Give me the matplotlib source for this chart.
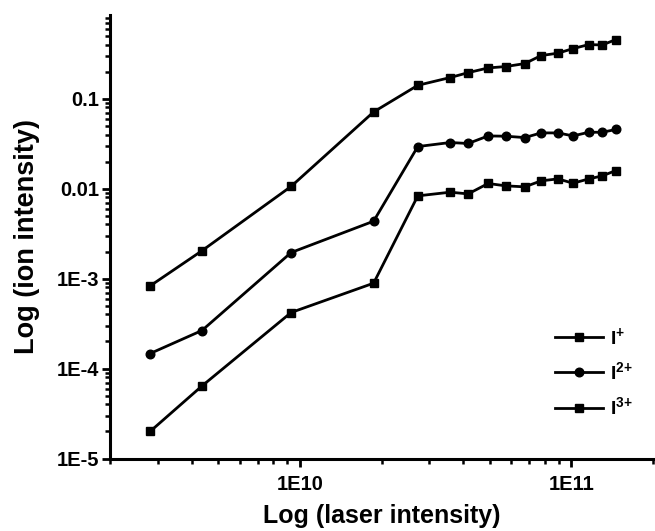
import numpy as np
import matplotlib
matplotlib.use("Agg")
import matplotlib.pyplot as plt
from matplotlib.ticker import FixedLocator, LogLocator, NullFormatter

plt.rcParams['font.family'] = ['Liberation Sans', 'DejaVu Sans']
plt.rcParams['font.weight'] = 'bold'
plt.rcParams['mathtext.fontset'] = 'custom'
plt.rcParams['mathtext.rm'] = 'Liberation Sans:bold'
plt.rcParams['mathtext.bf'] = 'Liberation Sans:bold'
plt.rcParams['mathtext.default'] = 'bf'

# laser intensity (W/cm^2)
laser = [2.81e9, 4.36e9, 9.29e9, 1.87e10, 2.72e10, 3.58e10, 4.17e10, 4.94e10,
         5.74e10, 6.74e10, 7.74e10, 8.93e10, 1.015e11, 1.16e11, 1.30e11, 1.46e11]

ion_1 = [8.3e-4, 2.04e-3, 0.0106, 0.0713, 0.141, 0.172, 0.195, 0.220,
         0.228, 0.246, 0.302, 0.321, 0.361, 0.400, 0.396, 0.455]
ion_2 = [1.47e-4, 2.65e-4, 1.95e-3, 4.35e-3, 0.0294, 0.0326, 0.0318, 0.0386,
         0.0383, 0.0370, 0.0417, 0.0417, 0.0386, 0.0424, 0.0424, 0.0455]
ion_3 = [2.0e-5, 6.4e-5, 4.2e-4, 8.9e-4, 0.00832, 0.00914, 0.00875, 0.01142,
         0.01075, 0.01048, 0.01222, 0.01285, 0.01150, 0.01285, 0.01387, 0.01592]

series_labels = [r'I$^{\text{+}}$', r'I$^{\text{2+}}$', r'I$^{\text{3+}}$']
x_ticks = [1e10, 1e11]
x_tick_labels = ['1E10', '1E11']
y_ticks = [1e-5, 1e-4, 1e-3, 1e-2, 1e-1]
y_tick_labels = ['1E-5', '1E-4', '1E-3', '0.01', '0.1']

fig = plt.figure(figsize=(6.55, 5.31), dpi=100)
ax = fig.add_axes([0.168, 0.1365, 0.829, 0.835])

lw = 2.0
ax.plot(laser, ion_1, '-s', color='black', lw=lw, ms=5.8, label=series_labels[0])
ax.plot(laser, ion_2, '-o', color='black', lw=lw, ms=6.2, label=series_labels[1])
ax.plot(laser, ion_3, '-s', color='black', lw=lw, ms=5.8, label=series_labels[2])

ax.set_xscale('log')
ax.set_yscale('log')
ax.set_xlim(2e9, 2e11)
ax.set_ylim(1e-5, 0.85)

ax.xaxis.set_major_locator(FixedLocator(x_ticks))
ax.set_xticklabels(x_tick_labels)
ax.yaxis.set_major_locator(FixedLocator(y_ticks))
ax.set_yticklabels(y_tick_labels)
ax.xaxis.set_minor_locator(LogLocator(base=10, subs=np.arange(2, 10)))
ax.yaxis.set_minor_locator(LogLocator(base=10, subs=np.arange(2, 10)))
ax.xaxis.set_minor_formatter(NullFormatter())
ax.yaxis.set_minor_formatter(NullFormatter())

for s in ['top', 'right']:
    ax.spines[s].set_visible(False)
for s in ['left', 'bottom']:
    ax.spines[s].set_linewidth(2.2)

ax.tick_params(which='major', direction='out', length=6, width=2.0, labelsize=14.5)
ax.tick_params(which='minor', direction='out', length=3.5, width=1.8)
ax.tick_params(axis='x', which='major', pad=6)
ax.tick_params(axis='y', which='major', pad=2)
for lab in ax.get_xticklabels() + ax.get_yticklabels():
    lab.set_fontweight('bold')

ax.set_xlabel('Log (laser intensity)', fontsize=18, fontweight='bold', labelpad=7)
ax.set_ylabel('Log (ion intensity)', fontsize=19.5, fontweight='bold', labelpad=12)

leg = ax.legend(loc='center left', bbox_to_anchor=(0.801, 0.195), frameon=False,
                borderpad=0, handlelength=2.5, handletextpad=0.35, labelspacing=0.7,
                prop={'size': 14, 'weight': 'bold'})

fig.savefig('out.png', dpi=100)
